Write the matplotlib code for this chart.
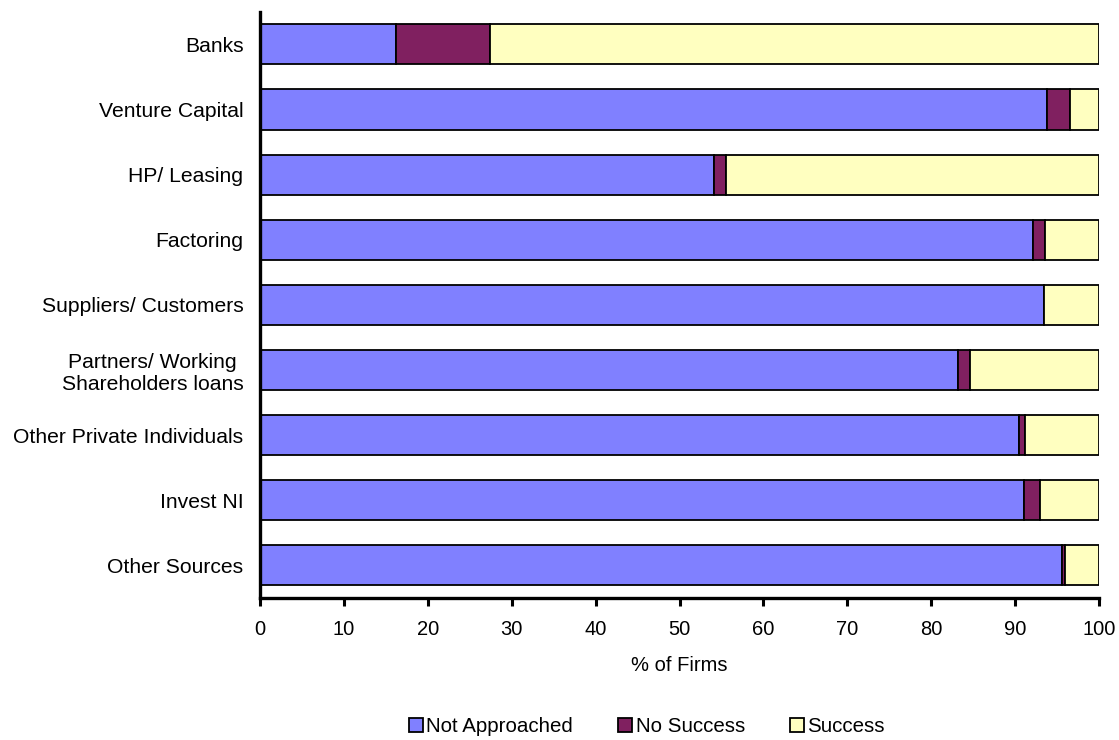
import matplotlib
matplotlib.use("Agg")
import matplotlib.pyplot as plt
import numpy as np

plt.rcParams['font.family'] = ['Liberation Sans', 'DejaVu Sans']

categories = [
    "Banks",
    "Venture Capital",
    "HP/ Leasing",
    "Factoring",
    "Suppliers/ Customers",
    "Partners/ Working\nShareholders loans",
    "Other Private Individuals",
    "Invest NI",
    "Other Sources",
]
not_approached = [16.2, 93.8, 54.1, 92.1, 93.4, 83.2, 90.5, 91.1, 95.6]
no_success = [11.2, 2.7, 1.4, 1.5, 0.0, 1.4, 0.7, 1.8, 0.3]
success = [72.6, 3.5, 44.5, 6.4, 6.6, 15.4, 8.8, 7.1, 4.1]

series = [
    ("Not Approached", not_approached, "#8080FF"),
    ("No Success", no_success, "#802060"),
    ("Success", success, "#FFFFC0"),
]

fig = plt.figure(figsize=(11.19, 7.4), dpi=100)
ax = fig.add_axes([0.2324, 0.192, 0.7498, 0.792])

y = np.arange(len(categories))
left = np.zeros(len(categories))
for name, vals, color in series:
    vals = np.array(vals)
    ax.barh(y, vals, left=left, height=0.615, color=color,
            edgecolor="black", linewidth=1.3, label=name)
    left += vals

ax.set_ylim(len(categories) - 0.5, -0.5)
ax.set_xlim(0, 100)
ax.set_yticks(y)
ax.set_yticklabels(categories, fontsize=15.2)
ax.tick_params(axis="y", length=0, pad=12)
ax.set_xticks(np.arange(0, 101, 10))
ax.tick_params(axis="x", direction="out", length=6, width=2.2, labelsize=14.5, pad=10)
for lbl in ax.get_yticklabels():
    lbl.set_multialignment("center")

for side in ("top", "right"):
    ax.spines[side].set_visible(False)
for side in ("left", "bottom"):
    ax.spines[side].set_linewidth(2.4)
    ax.spines[side].set_color("black")

ax.set_xlabel("% of Firms", fontsize=14.5)
ax.xaxis.set_label_coords(0.5, -0.116)
ax.xaxis.label.set_va("center")

handles, labels = ax.get_legend_handles_labels()
fig.legend(handles, labels, loc="center", bbox_to_anchor=(0.578, 0.0176), ncol=3,
           frameon=False, fontsize=14.8, handlelength=0.7, handleheight=0.7,
           handletextpad=0.15, columnspacing=2.2, borderpad=0, borderaxespad=0)

fig.savefig("out.png", dpi=100)
